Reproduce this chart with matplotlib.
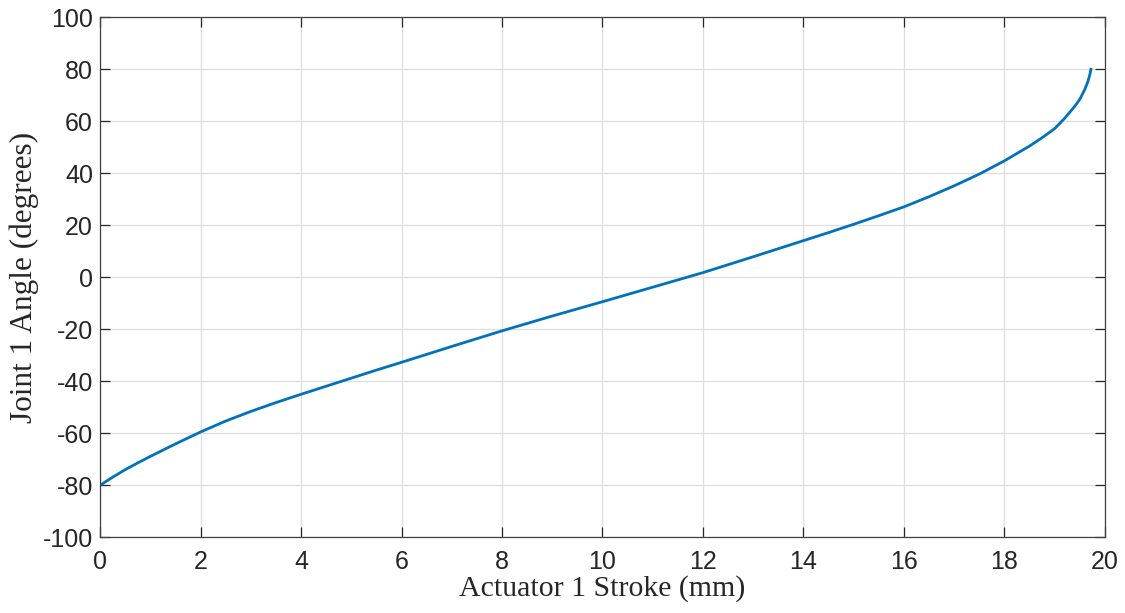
import matplotlib.pyplot as plt

# Actuator stroke (mm) vs joint angle (deg)
stroke = [0, 0.25, 0.5, 0.75, 1, 1.25, 1.5, 1.75, 2, 2.5, 3, 3.5, 4, 4.5, 5,
          5.5, 6, 7, 8, 9, 10, 11, 12, 13, 14, 14.5, 15, 15.5, 16, 16.5, 17,
          17.5, 18, 18.5, 18.75, 19, 19.2, 19.4, 19.5, 19.6, 19.66, 19.7,
          19.72]
angle = [-80, -76.9, -74.0, -71.4, -68.9, -66.5, -64.1, -61.8, -59.5, -55.3,
         -51.6, -48.2, -45.0, -41.9, -38.8, -35.7, -32.7, -26.6, -20.6, -14.9,
         -9.4, -3.8, 1.8, 7.9, 14.1, 17.2, 20.4, 23.7, 27.1, 31.0, 35.2, 39.7,
         44.8, 50.5, 53.7, 57.2, 61.2, 65.8, 68.5, 72.3, 75.3, 78.0, 80.0]

x_ticks = list(range(0, 21, 2))
y_ticks = list(range(-100, 101, 20))

plt.rcParams['axes.unicode_minus'] = False

fig = plt.figure(figsize=(11.25, 6.13), dpi=100)
ax = fig.add_axes([0.0889, 0.1235, 0.8933, 0.8483])

ax.plot(stroke, angle, color='#0072BD', linewidth=2.0)

ax.set_xlim(0, 20)
ax.set_ylim(-100, 100)
ax.set_xticks(x_ticks)
ax.set_yticks(y_ticks)

ax.grid(True, color='#dedede', linewidth=0.9)
ax.set_axisbelow(True)

ax.tick_params(direction='in', length=7, width=0.9, top=True, right=True,
               colors='#262626', labelsize=18)
ax.tick_params(axis='x', pad=9)
ax.tick_params(axis='y', pad=5)
for lab in ax.get_xticklabels() + ax.get_yticklabels():
    lab.set_family('Liberation Sans')
for sp in ax.spines.values():
    sp.set_color('#404040')
    sp.set_linewidth(0.9)

ax.set_xlabel('Actuator 1 Stroke (mm)', family='Liberation Serif',
              fontsize=21.5, color='#262626', labelpad=1)
ax.set_ylabel('Joint 1 Angle (degrees)', family='Liberation Serif',
              fontsize=22.5, color='#262626', labelpad=2.5)

fig.savefig('out.png', dpi=100)
